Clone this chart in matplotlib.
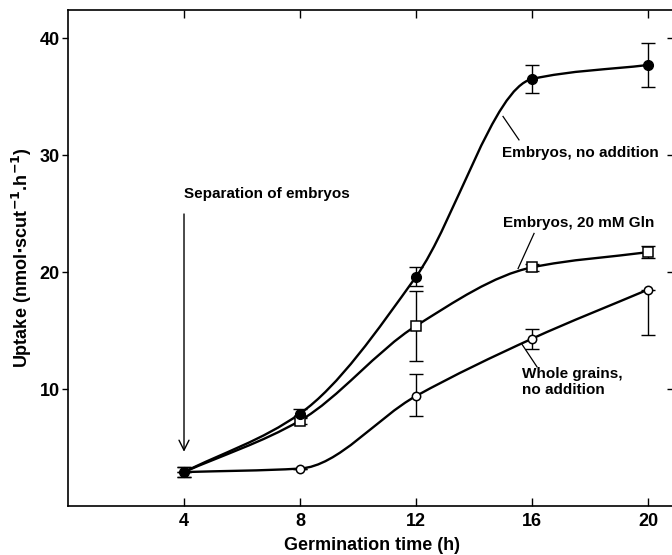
import numpy as np
import matplotlib.pyplot as plt
from matplotlib.path import Path
from matplotlib.patches import PathPatch

plt.rcParams['font.family'] = ['Liberation Sans', 'DejaVu Sans']
plt.rcParams['font.weight'] = 'bold'

hours = [4, 8, 12, 16, 20]

# embryos, no addition (filled circles)
emb = [2.9, 7.9, 19.6, 36.5, 37.7]
emb_err = [0.4, 0.4, 0.8, 1.2, 1.9]

# embryos, 20 mM Gln (open squares)
gln = [2.9, 7.3, 15.4, 20.4, 21.7]
gln_err = [0.4, 0.3, 3.0, 0.3, 0.5]

# whole grains, no addition (open circles)
grain = [2.9, 3.2, 9.4, 14.3, 18.5]
grain_lo = [0.0, 0.0, 1.7, 0.85, 3.9]
grain_hi = [0.0, 0.0, 1.9, 0.85, 0.0]


def smooth_path(x, y):
    # monotone cubic (fritsch-carlson tangents) drawn as bezier segments
    x = np.asarray(x, float)
    y = np.asarray(y, float)
    h = np.diff(x)
    s = np.diff(y) / h
    n = len(x)
    d = np.zeros(n)
    for i in range(1, n - 1):
        if s[i - 1] * s[i] > 0:
            d[i] = 2 / (1 / s[i - 1] + 1 / s[i])
    d[0] = s[0]
    d[-1] = s[-1]
    verts = [(x[0], y[0])]
    codes = [Path.MOVETO]
    for i in range(n - 1):
        verts += [(x[i] + h[i] / 3, y[i] + d[i] * h[i] / 3),
                  (x[i + 1] - h[i] / 3, y[i + 1] - d[i + 1] * h[i] / 3),
                  (x[i + 1], y[i + 1])]
        codes += [Path.CURVE4] * 3
    return Path(verts, codes)


fig = plt.figure(figsize=(6.72, 5.55), dpi=100)
ax = fig.add_axes([68 / 672, 49 / 555, 607 / 672, 496 / 555])
ax.set_xlim(0, 20.93)
ax.set_ylim(0, 42.4)

for ys in (emb, gln, grain):
    ax.add_patch(PathPatch(smooth_path(hours, ys), fill=False, lw=1.7,
                           color='black', zorder=2))

ek = dict(fmt='none', ecolor='black', elinewidth=1.0, capsize=5,
          capthick=1.0, zorder=3)
ax.errorbar(hours, emb, yerr=emb_err, **ek)
ax.errorbar(hours, gln, yerr=gln_err, **ek)
ax.errorbar(hours, grain, yerr=[grain_lo, grain_hi], **ek)

ax.plot(hours[1:], grain[1:], 'o', ms=6, mfc='white', mec='black', mew=1.1, zorder=4)
ax.plot(hours[1:], gln[1:], 's', ms=6.5, mfc='white', mec='black', mew=1.1, zorder=4)
ax.plot(hours, emb, 'o', ms=7, color='black', zorder=5)

# labels on the curves
fs = 11
ax.text(4.0, 26.7, 'Separation of embryos', fontsize=fs, va='center', ha='left')
ax.annotate('', xy=(4.0, 4.4), xytext=(4.0, 25.2),
            arrowprops=dict(arrowstyle='->', lw=1.0, color='black',
                            mutation_scale=18))
ax.text(14.95, 30.2, 'Embryos, no addition', fontsize=fs, va='center', ha='left')
ax.plot([15.55, 15.0], [31.3, 33.3], color='black', lw=0.9)
ax.text(15.0, 24.2, 'Embryos, 20 mM Gln', fontsize=fs, va='center', ha='left')
ax.plot([16.07, 15.52], [23.3, 20.3], color='black', lw=0.9)
ax.text(15.65, 10.6, 'Whole grains,\nno addition', fontsize=fs, va='center',
        ha='left', linespacing=1.15)
ax.plot([16.17, 15.66], [11.9, 13.8], color='black', lw=0.9)

ax.set_xticks(hours)
ax.set_yticks([10, 20, 30, 40])
ax.tick_params(axis='x', direction='in', length=6, width=1, top=True,
               labelsize=13, pad=5)
ax.tick_params(axis='y', direction='out', length=4, width=1, labelsize=13,
               pad=2, left=True, right=False)
# inward marks on the right side
ax2 = ax.secondary_yaxis('right')
ax2.set_yticks([10, 20, 30, 40])
ax2.tick_params(direction='in', length=6, width=1, labelright=False)
for lbl in ax.get_xticklabels() + ax.get_yticklabels():
    lbl.set_fontweight('bold')
for s in ax.spines.values():
    s.set_linewidth(1.2)

ax.set_xlabel('Germination time (h)', fontsize=13, fontweight='bold', labelpad=5)
ax.set_ylabel(r'Uptake (nmol$\cdot$scut$^{-1}$.h$^{-1}$)', fontsize=13,
              fontweight='bold', labelpad=4)

fig.savefig('out.png', dpi=100)
